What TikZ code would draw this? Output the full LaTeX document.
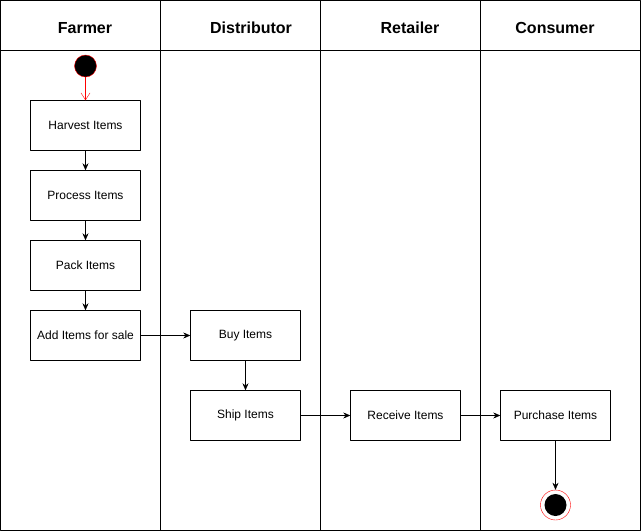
\documentclass[tikz,border=0pt]{standalone}
\usepackage{fontspec}
\setmainfont{Liberation Sans}
\usetikzlibrary{arrows.meta}
\begin{document}
\begin{tikzpicture}[x=1pt,y=-1pt,>={Stealth[length=7pt,width=6pt]},line join=round,
  act/.style={draw,minimum width=110pt,minimum height=50pt,inner sep=0pt,font=\fontsize{12}{14}\selectfont},
  lane/.style={font=\bfseries\fontsize{16}{19}\selectfont}]
\useasboundingbox (0,0) rectangle (641,531);
% swimlanes
\draw (0.5,0.5) rectangle (640.5,530.5);
\draw (0.5,50.5) -- (640.5,50.5);
\foreach \x in {160.5,320.5,480.5} \draw (\x,0.5) -- (\x,530.5);
\node[lane] (farmer) at (85,28) {Farmer};
\node[lane] (distributor) at (251,28) {Distributor};
\node[lane] (retailer) at (410,28) {Retailer};
\node[lane] (consumer) at (555,28) {Consumer};
% activities
\node[act] (harvest) at (85.5,125.5) {Harvest Items};
\node[act] (process) at (85.5,195.5) {Process Items};
\node[act] (pack) at (85.5,265.5) {Pack Items};
\node[act] (sale) at (85.5,335.5) {Add Items for sale};
\node[act] (buy) at (245.5,335.5) {Buy Items};
\node[act] (ship) at (245.5,415.5) {Ship Items};
\node[act] (receive) at (405.5,415.5) {Receive Items};
\node[act] (purchase) at (555.5,415.5) {Purchase Items};
% start and end
\node[circle,draw=red,fill=black,minimum size=22pt,inner sep=0pt] (start) at (85.5,66) {};
\node[circle,draw=red,fill=white,minimum size=30pt,inner sep=0pt] (stop) at (555.5,505) {};
\node[circle,fill=black,minimum size=22pt,inner sep=0pt] (stopin) at (stop) {};
% flows
\draw[red,-{Straight Barb[length=7pt,width=9pt]}] (start) -- (harvest);
\draw[->] (harvest) -- (process);
\draw[->] (process) -- (pack);
\draw[->] (pack) -- (sale);
\draw[->] (sale) -- (buy);
\draw[->] (buy) -- (ship);
\draw[->] (ship) -- (receive);
\draw[->] (receive) -- (purchase);
\draw[->] (purchase) -- (stop);
\end{tikzpicture}
\end{document}
